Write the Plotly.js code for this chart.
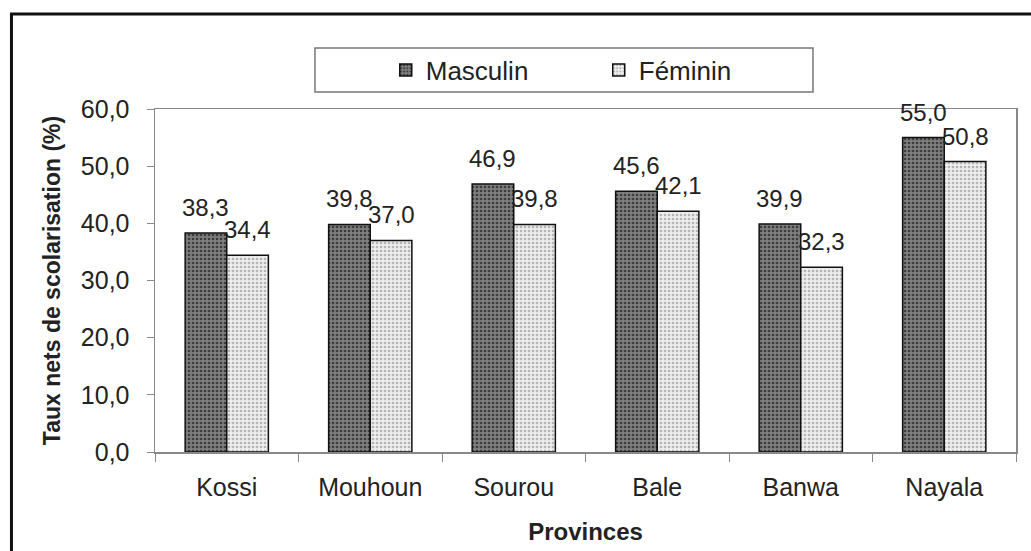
<!DOCTYPE html>
<html>
<head>
<meta charset="utf-8">
<script src="https://cdn.plot.ly/plotly-3.0.1.min.js"></script>
<style>
  body { margin: 0; background: #fff; }
  #plot { width: 1031px; height: 551px; }
</style>
</head>
<body>
<div id="plot"></div>
<script>
var provinces = ['Kossi', 'Mouhoun', 'Sourou', 'Bale', 'Banwa', 'Nayala'];
var masculin = [38.3, 39.8, 46.9, 45.6, 39.9, 55.0];
var feminin = [34.4, 37.0, 39.8, 42.1, 32.3, 50.8];
var yTicks = [0, 10, 20, 30, 40, 50, 60];

var fontFamily = '"Liberation Sans", Arial, sans-serif';

var traceM = {
  type: 'bar',
  name: 'Masculin',
  x: provinces,
  y: masculin,
  marker: {
    color: '#7a7a7a',
    line: { color: '#111', width: 1.5 },
    pattern: { shape: '.', bgcolor: '#7e7e7e', fgcolor: '#3c3c3c', size: 4, solidity: 0.35 }
  },
  hoverinfo: 'x+y'
};

var traceF = {
  type: 'bar',
  name: 'Féminin',
  x: provinces,
  y: feminin,
  marker: {
    color: '#ececec',
    line: { color: '#111', width: 1.5 },
    pattern: { shape: '.', bgcolor: '#eeeeee', fgcolor: '#b4b4b4', size: 4, solidity: 0.35 }
  },
  hoverinfo: 'x+y'
};

// value labels above each bar
function fmt(v) { return v.toFixed(1).replace('.', ','); }
var annotations = [];
provinces.forEach(function(p, i) {
  annotations.push({
    x: p, y: masculin[i], xref: 'x', yref: 'y',
    text: fmt(masculin[i]), showarrow: false,
    xshift: -21, yshift: 10, yanchor: 'bottom',
    font: { family: fontFamily, size: 24, color: '#222' }
  });
  annotations.push({
    x: p, y: feminin[i], xref: 'x', yref: 'y',
    text: fmt(feminin[i]), showarrow: false,
    xshift: 21, yshift: 10, yanchor: 'bottom',
    font: { family: fontFamily, size: 24, color: '#222' }
  });
});

var layout = {
  width: 1031,
  height: 551,
  margin: { l: 155, r: 15, t: 109, b: 99 },
  paper_bgcolor: '#fff',
  plot_bgcolor: '#fff',
  separators: ', ',
  barmode: 'group',
  bargap: 0.42,
  bargroupgap: 0,
  font: { family: fontFamily, color: '#222' },
  showlegend: true,
  legend: {
    orientation: 'h',
    x: 0.268, xanchor: 'left',
    y: 1.1137, yanchor: 'middle',
    font: { family: fontFamily, size: 26, color: '#222' },
    entrywidth: 168,
    entrywidthmode: 'pixels',
    bgcolor: 'rgba(0,0,0,0)',
    borderwidth: 0
  },
  xaxis: {
    type: 'category',
    showline: true, linecolor: '#888', linewidth: 1.5, mirror: true,
    ticks: 'outside', tickson: 'boundaries', ticklen: 8, tickcolor: '#888',
    tickfont: { family: fontFamily, size: 25, color: '#222' },
    ticklabelstandoff: 12,
    showgrid: false, zeroline: false,
    title: { text: '<b>Provinces</b>', font: { family: fontFamily, size: 24, color: '#222' }, standoff: 23 }
  },
  yaxis: {
    range: [0, 60],
    tickvals: yTicks,
    tickformat: '.1f',
    showline: true, linecolor: '#888', linewidth: 1.5, mirror: true,
    ticks: 'outside', ticklen: 7, tickcolor: '#888',
    tickfont: { family: fontFamily, size: 25, color: '#222' },
    ticklabelstandoff: 12,
    showgrid: false, zeroline: false,
    title: { text: '<b>Taux nets de scolarisation (%)</b>', font: { family: fontFamily, size: 23, color: '#222' }, standoff: 14 }
  },
  annotations: annotations,
  shapes: [
    // legend box
    { type: 'rect', xref: 'paper', yref: 'paper',
      x0: 0.1858, x1: 0.7642, y0: 1.0496, y1: 1.1778,
      line: { color: '#777', width: 1.5 }, fillcolor: 'rgba(0,0,0,0)', layer: 'below' },
    // outer frame
    { type: 'rect', xref: 'paper', yref: 'paper',
      x0: -0.1667, x1: 1.04, y0: -0.4, y1: 1.277,
      line: { color: '#111', width: 3 }, fillcolor: 'rgba(0,0,0,0)' }
  ]
};

Plotly.newPlot('plot', [traceM, traceF], layout, { displayModeBar: false, staticPlot: true });
</script>
</body>
</html>
